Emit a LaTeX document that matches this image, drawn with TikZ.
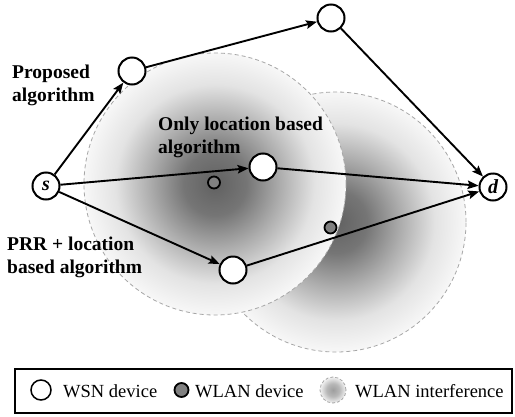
\documentclass[tikz,border=0pt]{standalone}
\usepackage{fontspec}
\setmainfont{Liberation Serif}
\usetikzlibrary{arrows.meta}
% soft grey halo for the WLAN interference zones (the path edge sits at 25bp)
\pgfdeclareradialshading{wlanhalo}{\pgfpointorigin}{color(0bp)=(black!62); color(6bp)=(black!54); color(12.5bp)=(black!32); color(19bp)=(black!11); color(25bp)=(black!3); color(50bp)=(black!3)}
% paler version for the small legend key
\pgfdeclareradialshading{wlankey}{\pgfpointorigin}{color(0bp)=(black!38); color(12.5bp)=(black!28); color(25bp)=(black!5); color(50bp)=(black!5)}
\begin{document}
\begin{tikzpicture}[x=1pt,y=-1pt,
  wsn/.style={circle,draw,line width=2pt,fill=white,minimum size=27pt,inner sep=0pt,
    font=\fontsize{20}{24}\selectfont\bfseries\itshape},
  wlan/.style={circle,draw,line width=1.8pt,fill=black!50,minimum size=12pt,inner sep=0pt},
  halo/.style={shade,shading=wlanhalo,draw=black!35,line width=0.8pt,dash pattern=on 4pt off 3pt},
  link/.style={line width=1.9pt,-{Stealth[length=11pt,width=8.5pt,inset=2pt]}},
  lbl/.style={font=\fontsize{19.5}{23}\selectfont\bfseries,align=left,inner sep=0pt,anchor=north west},
  legtext/.style={font=\fontsize{18.5}{22}\selectfont,inner sep=0pt,anchor=base west}]

\useasboundingbox (0,0) rectangle (515,416);
\fill[white] (0,0) rectangle (515,416);

% interference zones: the right one first, the left one lies over it
\path[halo] (336,222) circle (130pt);
\path[halo] (215,184) circle (131pt);

% WLAN devices
\node[wlan] (w1) at (214,182.5) {};
\node[wlan] (w2) at (330.5,227.5) {};

% WSN devices
\node[wsn] (s)  at (46,186)  {s};
\node[wsn] (p1) at (132,71)  {};
\node[wsn] (p2) at (331,18)  {};
\node[wsn] (o1) at (263,167) {};
\node[wsn] (r1) at (233,270) {};
\node[wsn] (d)  at (493,187) {d};

% routes
\draw[link] (s)  -- (p1);
\draw[link] (p1) -- (p2);
\draw[link] (p2) -- (d);
\draw[link] (s)  -- (o1);
\draw[link] (o1) -- (d);
\draw[link] (s)  -- (r1);
\draw[link] (r1) -- (d);

% route labels
\node[lbl] (lp) at (12,64.3)   {Proposed\\algorithm};
\node[lbl] (lo) at (158,116.8) {Only location based\\algorithm};
\node[lbl] (lr) at (7,236.8)   {PRR + location\\based algorithm};

% legend
\node[draw,line width=1.5pt,minimum width=497pt,minimum height=44pt,anchor=north west,inner sep=0pt] (legend) at (14,368) {};
\node[circle,draw,line width=1.5pt,minimum size=20pt,inner sep=0pt] (kwsn) at (41,390) {};
\node[legtext] (twsn) at (63,397) {WSN device};
\node[wlan,minimum size=14pt] (kwlan) at (181.5,390) {};
\node[legtext] (twlan) at (195,397) {WLAN device};
\node[circle,halo,shading=wlankey,minimum size=26pt,inner sep=0pt,dash pattern=on 3pt off 2pt] (kint) at (333,390) {};
\node[legtext] (tint) at (355,397) {WLAN interference};
\end{tikzpicture}
\end{document}
